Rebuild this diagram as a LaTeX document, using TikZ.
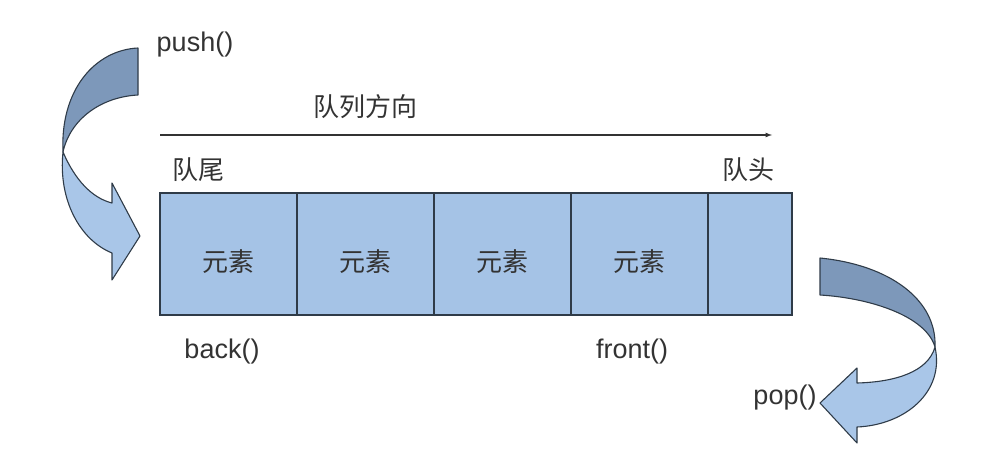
\documentclass[tikz,border=0pt]{standalone}
\usepackage{fontspec}
\setmainfont{Liberation Sans}
\newfontfamily\cjk{Noto Sans CJK SC}
\usetikzlibrary{arrows}
\usetikzlibrary{positioning}

\definecolor{cellblue}{HTML}{A5C3E6}
\definecolor{lightarrow}{HTML}{A9C6E8}
\definecolor{darkarrow}{HTML}{7D98BA}
\definecolor{edgegray}{HTML}{2F3B48}
\definecolor{textgray}{HTML}{333333}

\tikzset{
    cell/.style={draw=edgegray, fill=cellblue, line width=1.2pt, rectangle,
        minimum width=137pt, minimum height=122pt, outer sep=0pt, inner sep=0pt},
    cnlabel/.style={font=\cjk\fontsize{26}{30}\selectfont, text=textgray},
    fnlabel/.style={font=\fontsize{27}{32}\selectfont, text=textgray},
    ribbon/.style={draw=edgegray, line width=1.1pt, line join=round}
}

\begin{document}
\begin{tikzpicture}[x=1pt, y=-1pt]
    \useasboundingbox (0,0) rectangle (995,455);
    % queue cells
    \node [cell] (c1) at (228.5,254) {};
    \node [cell] (c2) [right=0pt of c1] {};
    \node [cell] (c3) [right=0pt of c2] {};
    \node [cell] (c4) [right=0pt of c3] {};
    \node [cell, minimum width=84pt] (c5) [right=0pt of c4] {};
    \foreach \i in {1,...,4}
        \node [cnlabel] (e\i) at ([yshift=-8pt]c\i) {元素};
    % direction
    \coordinate (dirstart) at (160,135);
    \coordinate (dirend) at (772,135);
    \draw [-latex, line width=1.2pt, textgray] (dirstart) -- (dirend);
    \node [cnlabel] (dir) at (365,107) {队列方向};
    \node [cnlabel] (tail) at (198,170) {队尾};
    \node [cnlabel] (head) at (748,170) {队头};
    \node [fnlabel] (back) at (222,352) {back()};
    \node [fnlabel] (front) at (632,352) {front()};
    \node [fnlabel] (push) at (195,45) {push()};
    \node [fnlabel] (pop) at (785,398) {pop()};
    % push arrow
    \path [ribbon, fill=darkarrow]
        (138,48) -- (138,95) .. controls (100,97) and (70,120) .. (63,152)
        .. controls (60,90) and (95,50) .. (138,48) -- cycle;
    \path [ribbon, fill=lightarrow]
        (63,152) .. controls (75,180) and (92,198) .. (112,203) -- (112,183)
        -- (140,236) -- (112,280) -- (112,253)
        .. controls (80,240) and (58,200) .. (63,152) -- cycle;
    % pop arrow
    \path [ribbon, fill=darkarrow]
        (820,258) -- (820,295) .. controls (870,298) and (926,316) .. (935,347)
        .. controls (937,300) and (890,265) .. (820,258) -- cycle;
    \path [ribbon, fill=lightarrow]
        (935,347) .. controls (928,372) and (895,382) .. (857,383) -- (857,368)
        -- (820,403) -- (857,443) -- (857,427)
        .. controls (905,425) and (945,392) .. (935,347) -- cycle;
\end{tikzpicture}
\end{document}
